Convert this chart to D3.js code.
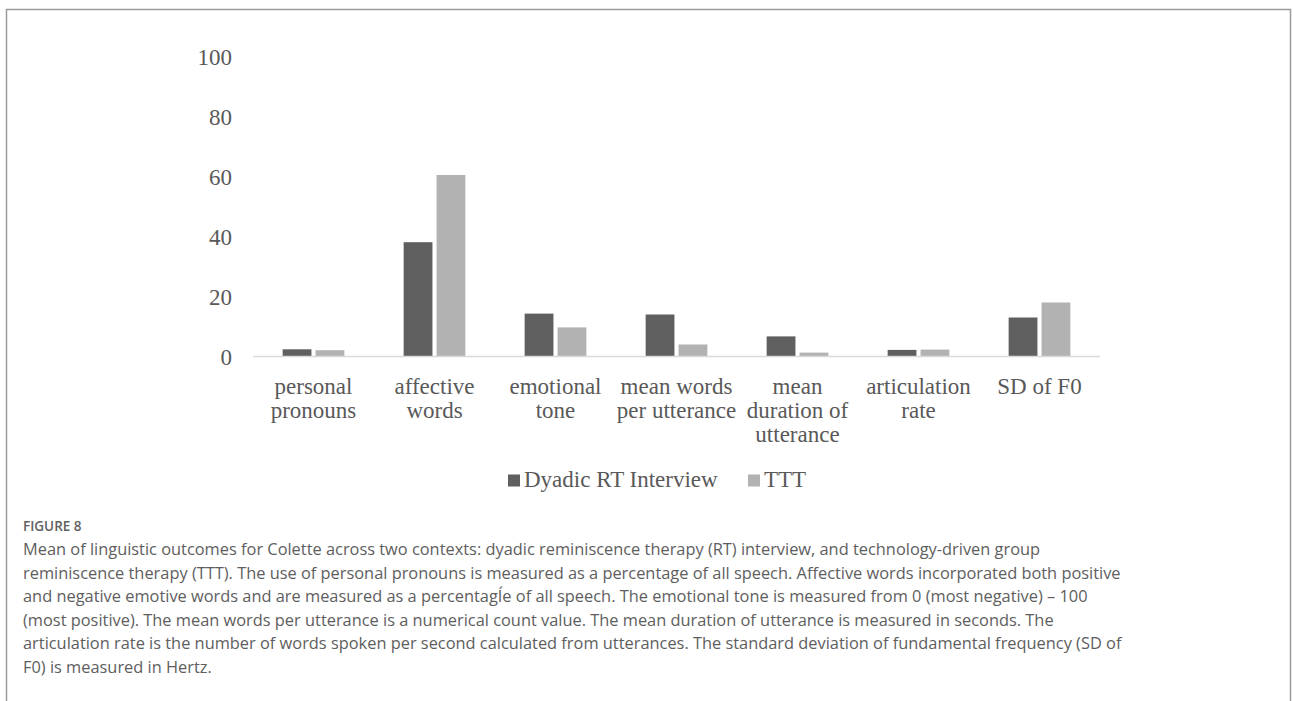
<!DOCTYPE html>
<html>
<head>
<meta charset="utf-8">
<script src="https://cdn.jsdelivr.net/npm/d3@7"></script>
<style>
  html, body { margin: 0; padding: 0; background: #fff; }
  svg { display: block; }
</style>
</head>
<body>
<svg id="chart" width="1293" height="701"></svg>
<script>
// Measures compared across the two reminiscence contexts
const categories = [
  ["personal", "pronouns"],
  ["affective", "words"],
  ["emotional", "tone"],
  ["mean words", "per utterance"],
  ["mean", "duration of", "utterance"],
  ["articulation", "rate"],
  ["SD of F0"]
];
const seriesNames = ["Dyadic RT Interview", "TTT"];
const dyadicValues = [2.4, 38.1, 14.3, 14.0, 6.7, 2.2, 13.0];
const tttValues    = [2.1, 60.5, 9.7, 4.0, 1.3, 2.3, 18.0];
const yTicks = [0, 20, 40, 60, 80, 100];

const captionTitle = "FIGURE 8";
const captionLines = [
  "Mean of linguistic outcomes for Colette across two contexts: dyadic reminiscence therapy (RT) interview, and technology-driven group",
  "reminiscence therapy (TTT). The use of personal pronouns is measured as a percentage of all speech. Affective words incorporated both positive",
  "and negative emotive words and are measured as a percentagÍe of all speech. The emotional tone is measured from 0 (most negative) – 100",
  "(most positive). The mean words per utterance is a numerical count value. The mean duration of utterance is measured in seconds. The",
  "articulation rate is the number of words spoken per second calculated from utterances. The standard deviation of fundamental frequency (SD of",
  "F0) is measured in Hertz."
];

const colors = ["#5f5f5f", "#b2b2b2"];
const serif = "'Liberation Serif', 'Times New Roman', serif";
const textGray = "#595959";

const svg = d3.select("#chart");

// Outer frame (open at the bottom)
svg.append("path")
  .attr("d", "M6.5,701 V9.5 H1290.5 V701")
  .attr("fill", "none")
  .attr("stroke", "#9a9a9a")
  .attr("stroke-width", 1.5);

// Scales
const plot = { left: 253, right: 1100, top: 56.5, bottom: 356.5 };
const x0 = d3.scaleBand()
  .domain(d3.range(categories.length))
  .range([plot.left, plot.right])
  .paddingInner(0.49)
  .paddingOuter(0.245);
const x1 = d3.scaleBand()
  .domain(d3.range(seriesNames.length))
  .range([0, x0.bandwidth()])
  .paddingInner(0.125);
const y = d3.scaleLinear().domain([0, 100]).range([plot.bottom, plot.top]);

// Y axis labels (no axis line, no ticks)
const yAxis = d3.axisLeft(y).tickValues(yTicks).tickSize(0).tickPadding(0);
const yG = svg.append("g").attr("transform", "translate(232,0)").call(yAxis);
yG.select(".domain").remove();
yG.selectAll("text")
  .attr("font-family", serif)
  .attr("font-size", 23)
  .attr("fill", textGray)
  .attr("dy", "0.33em");

// Bars
const groups = svg.append("g").selectAll("g")
  .data(categories.map((c, i) => [dyadicValues[i], tttValues[i]]))
  .join("g")
  .attr("transform", (d, i) => `translate(${x0(i)},0)`);
groups.selectAll("rect")
  .data(d => d)
  .join("rect")
  .attr("x", (d, j) => x1(j))
  .attr("y", d => y(d))
  .attr("width", x1.bandwidth())
  .attr("height", d => y(0) - y(d))
  .attr("fill", (d, j) => colors[j]);

// Baseline
svg.append("line")
  .attr("x1", plot.left).attr("x2", plot.right)
  .attr("y1", y(0)).attr("y2", y(0))
  .attr("stroke", "#d9d9d9")
  .attr("stroke-width", 1.5);

// Category labels (wrapped lines)
const catLabels = svg.append("g").selectAll("text")
  .data(categories)
  .join("text")
  .attr("font-family", serif)
  .attr("font-size", 23)
  .attr("fill", textGray)
  .attr("text-anchor", "middle");
catLabels.each(function(lines, i) {
  const cx = x0(i) + x0.bandwidth() / 2;
  d3.select(this).selectAll("tspan")
    .data(lines)
    .join("tspan")
    .attr("x", cx)
    .attr("y", (d, k) => 393.5 + k * 24.3)
    .text(d => d);
});

// Legend
const legend = svg.append("g").attr("font-family", serif).attr("font-size", 23).attr("fill", textGray);
const legendX = [508, 748];
seriesNames.forEach((name, j) => {
  legend.append("rect")
    .attr("x", legendX[j]).attr("y", 474.5)
    .attr("width", 12).attr("height", 12)
    .attr("fill", colors[j]);
  legend.append("text")
    .attr("x", legendX[j] + 16).attr("y", 487)
    .text(name);
});

// Caption
const sans = "'Open Sans', 'Noto Sans', sans-serif";
const cap = svg.append("g")
  .attr("font-family", sans)
  .attr("fill", "#5e5e5e")
  .style("font-variant-ligatures", "none");
cap.append("text")
  .attr("x", 23).attr("y", 531)
  .attr("font-size", 13.5)
  .attr("font-weight", 600)
  .attr("fill", "#606060")
  .text(captionTitle);
const capText = cap.selectAll("text.line")
  .data(captionLines)
  .join("text")
  .attr("class", "line")
  .attr("x", 23)
  .attr("y", (d, i) => 555 + i * 23.5)
  .attr("font-size", 16)
  .text(d => d);
// Fit the caption size so the widest line spans the text column
const widest = d3.max(capText.nodes(), n => n.getComputedTextLength());
const fitted = 16 * 1099 / widest;
capText.attr("font-size", fitted);
</script>
</body>
</html>
